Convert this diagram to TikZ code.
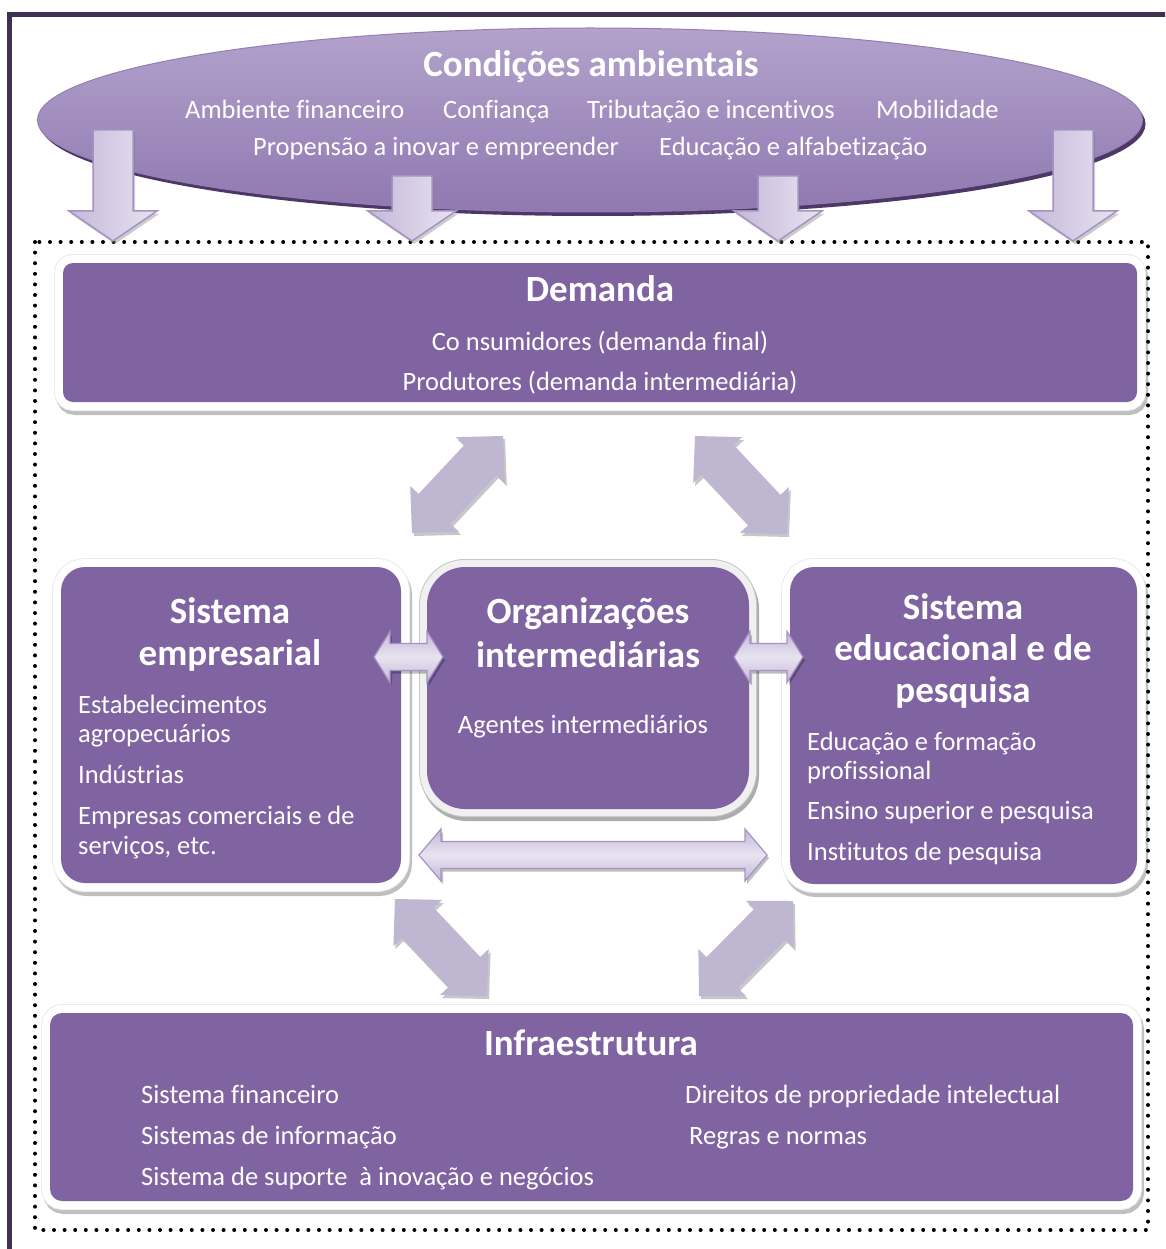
\documentclass[tikz,border=0pt]{standalone}
\usepackage{fontspec}
\setmainfont{Carlito}[Ligatures=NoCommon]
\usetikzlibrary{calc,shapes.geometric}

\definecolor{boxpurple}{HTML}{8064A2}
\definecolor{framedark}{HTML}{3F3151}
\definecolor{arrowlav}{HTML}{BFB7D1}
\definecolor{arrowedge}{HTML}{A593C4}
\definecolor{arrowlight}{HTML}{E8E3F0}
\definecolor{arrowmid}{HTML}{C5B8DA}
\definecolor{elltop}{HTML}{B3A2CC}
\definecolor{ellmid}{HTML}{7B5F9E}
\definecolor{ellbot}{HTML}{8F79B0}
\definecolor{ellshadow}{HTML}{4B3866}

% double-headed block arrow between two tips
% #1,#2 tips; #3 shaft half-width; #4 head half-width; #5 head length; #6 style
\newcommand\blockdouble[6]{%
  \path[#6] ($(#1)!#5!(#2)!#4!90:(#2)$) -- (#1) -- ($(#1)!#5!(#2)!#4!-90:(#2)$)
   -- ($(#1)!#5!(#2)!#3!-90:(#2)$) -- ($(#2)!#5!(#1)!#3!90:(#1)$)
   -- ($(#2)!#5!(#1)!#4!90:(#1)$) -- (#2) -- ($(#2)!#5!(#1)!#4!-90:(#1)$)
   -- ($(#2)!#5!(#1)!#3!-90:(#1)$) -- ($(#1)!#5!(#2)!#3!90:(#2)$) -- cycle;}

% downward block arrow from the top of its shaft to its tip
\newcommand\blockdown[2]{%
  \path[downarrow] let \p1=(#1), \p2=(#2) in
    (\x1-20pt,\y1) -- (\x1+20pt,\y1) -- (\x1+20pt,\y2+30pt) -- (\x1+44pt,\y2+30pt)
    -- (\x2,\y2) -- (\x1-44pt,\y2+30pt) -- (\x1-20pt,\y2+30pt) -- cycle;}

\begin{document}
\begin{tikzpicture}[x=1pt,y=-1pt,
  body/.style={text=white, inner sep=0pt, font=\fontsize{26.5}{30}\selectfont},
  head/.style={text=white, inner sep=0pt, font=\fontsize{37}{42}\selectfont\bfseries},
  whiteframe/.style={
    preaction={draw=black, opacity=.25, line width=18pt,
      transform canvas={shift={(2pt,-4pt)}}},
    preaction={draw=black!8, line width=18pt},
    preaction={draw=white, line width=16pt},
    fill=boxpurple, inner sep=0pt},
  greyframe/.style={
    preaction={draw=black, opacity=.32, line width=16pt,
      transform canvas={shift={(2pt,-4pt)}}},
    preaction={draw=black!22, line width=16pt},
    preaction={draw=black!6, line width=14pt},
    fill=boxpurple, inner sep=0pt},
  downarrow/.style={
    preaction={fill=black!50, opacity=.4, transform canvas={shift={(2pt,-3pt)}}},
    left color=arrowmid, right color=arrowlight, draw=arrowedge,
    line width=1.5pt, line join=miter},
  diagarrow/.style={
    preaction={fill=black, opacity=.22, transform canvas={shift={(2pt,-3pt)}}},
    fill=arrowlav},
  flatarrow/.style={
    preaction={fill=black, opacity=.25, transform canvas={shift={(2pt,-3pt)}}},
    top color=arrowmid, bottom color=arrowmid, middle color=arrowlight,
    draw=arrowedge, line width=1.2pt, line join=miter},
  dotframe/.style={draw=black, line width=4pt, line cap=round,
    dash pattern=on 0pt off 10.6pt}
]
\useasboundingbox (0,0) rectangle (1165,1249);
\clip (0,0) rectangle (1165,1249);
\fill[white] (0,0) rectangle (1165,1249);

% outer page frame
\draw[framedark, line width=5pt] (9.5,14.5) rectangle (1300,1400);

% environment ellipse
\node[ellipse, fill=ellshadow, minimum width=1105pt, minimum height=184pt, inner sep=0pt]
  (envshadow) at (593,124) {};
\node[ellipse, top color=elltop, middle color=ellmid, bottom color=ellbot,
  draw=ellmid!80!white, line width=1pt,
  minimum width=1105pt, minimum height=184pt, inner sep=0pt] (env) at (590,120) {};
\node[head, anchor=base] (envt) at (591,77) {Condições ambientais};
\node[body, anchor=base west] (e1) at (185,119) {Ambiente financeiro};
\node[body, anchor=base west] (e2) at (443,119) {Confiança};
\node[body, anchor=base west] (e3) at (587,119) {Tributação e incentivos};
\node[body, anchor=base west] (e4) at (876,119) {Mobilidade};
\node[body, anchor=base west] (e5) at (253,156) {Propensão a inovar e empreender};
\node[body, anchor=base west] (e6) at (659,156) {Educação e alfabetização};

% dotted boundary of the system
\draw[dotframe] (35,242) rectangle (1148,1230);

% arrows from the environment down into the system
\coordinate (dn1a) at (113,130);  \coordinate (dn1b) at (113,241);
\coordinate (dn2a) at (412,176);  \coordinate (dn2b) at (412,241);
\coordinate (dn3a) at (778,176);  \coordinate (dn3b) at (778,241);
\coordinate (dn4a) at (1073,130); \coordinate (dn4b) at (1073,241);
\blockdown{dn1a}{dn1b}
\blockdown{dn2a}{dn2b}
\blockdown{dn3a}{dn3b}
\blockdown{dn4a}{dn4b}

% demand
\node[whiteframe, rounded corners=10pt, minimum width=1074pt, minimum height=139pt]
  (dem) at (600,332.5) {};
\node[head, anchor=base] (demt) at (600,301) {Demanda};
\node[body, anchor=base] (dem1) at (600,350) {Co nsumidores (demanda final)};
\node[body, anchor=base] (dem2) at (600,390) {Produtores (demanda intermediária)};

% business system
\node[whiteframe, rounded corners=24pt, minimum width=340pt, minimum height=316pt]
  (emp) at (231,725) {};
\node[head, anchor=base] (empt1) at (230,623) {Sistema};
\node[head, anchor=base] (empt2) at (230,665) {empresarial};
\node[body, anchor=base west] (emp1) at (78,713) {Estabelecimentos};
\node[body, anchor=base west] (emp2) at (78,742) {agropecuários};
\node[body, anchor=base west] (emp3) at (78,783) {Indústrias};
\node[body, anchor=base west] (emp4) at (78,824) {Empresas comerciais e de};
\node[body, anchor=base west] (emp5) at (78,854) {serviços, etc.};

% intermediary organisations
\node[greyframe, rounded corners=38pt, minimum width=322pt, minimum height=242pt]
  (org) at (588,688) {};
\node[head, anchor=base] (orgt1) at (588,623) {Organizações};
\node[head, anchor=base] (orgt2) at (588,667) {intermediárias};
\node[body, anchor=base] (org1) at (583,733) {Agentes intermediários};

% education and research system
\node[whiteframe, rounded corners=24pt, minimum width=347pt, minimum height=317pt]
  (edu) at (963.5,725.5) {};
\node[head, anchor=base] (edut1) at (963,619) {Sistema};
\node[head, anchor=base] (edut2) at (963,660) {educacional e de};
\node[head, anchor=base] (edut3) at (963,702) {pesquisa};
\node[body, anchor=base west] (edu1) at (807,750) {Educação e formação};
\node[body, anchor=base west] (edu2) at (807,779) {profissional};
\node[body, anchor=base west] (edu3) at (807,819) {Ensino superior e pesquisa};
\node[body, anchor=base west] (edu4) at (807,860) {Institutos de pesquisa};

% infrastructure
\node[whiteframe, rounded corners=12pt, minimum width=1083pt, minimum height=188pt]
  (inf) at (591.5,1107) {};
\node[head, anchor=base] (inft) at (591,1055) {Infraestrutura};
\node[body, anchor=base west] (inf1) at (141,1103) {Sistema financeiro};
\node[body, anchor=base west] (inf2) at (141,1144) {Sistemas de informação};
\node[body, anchor=base west] (inf3) at (141,1185) {Sistema de suporte~ à inovação e negócios};
\node[body, anchor=base west] (inf4) at (685,1103) {Direitos de propriedade intelectual};
\node[body, anchor=base west] (inf5) at (689,1144) {Regras e normas};

% diagonal links between demand, the two systems and infrastructure
\coordinate (dgAa) at (412,533); \coordinate (dgAb) at (503,436);
\coordinate (dgBa) at (695,436); \coordinate (dgBb) at (787,534);
\coordinate (dgCa) at (395,899); \coordinate (dgCb) at (487,996);
\coordinate (dgDa) at (793,901); \coordinate (dgDb) at (699,996);
\blockdouble{dgAa}{dgAb}{22pt}{33.5pt}{33pt}{diagarrow}
\blockdouble{dgBa}{dgBb}{22pt}{33.5pt}{33pt}{diagarrow}
\blockdouble{dgCa}{dgCb}{22pt}{33.5pt}{33pt}{diagarrow}
\blockdouble{dgDa}{dgDb}{22pt}{33.5pt}{33pt}{diagarrow}

% horizontal links around the intermediary organisations
\coordinate (hLa) at (374,657); \coordinate (hLb) at (443,657);
\coordinate (hRa) at (734,657); \coordinate (hRb) at (803,657);
\coordinate (hMa) at (419,855); \coordinate (hMb) at (767,855);
\blockdouble{hLa}{hLb}{13.5pt}{25.5pt}{16pt}{flatarrow}
\blockdouble{hRa}{hRb}{13.5pt}{25.5pt}{16pt}{flatarrow}
\blockdouble{hMa}{hMb}{13.5pt}{26pt}{22pt}{flatarrow}
\end{tikzpicture}
\end{document}
